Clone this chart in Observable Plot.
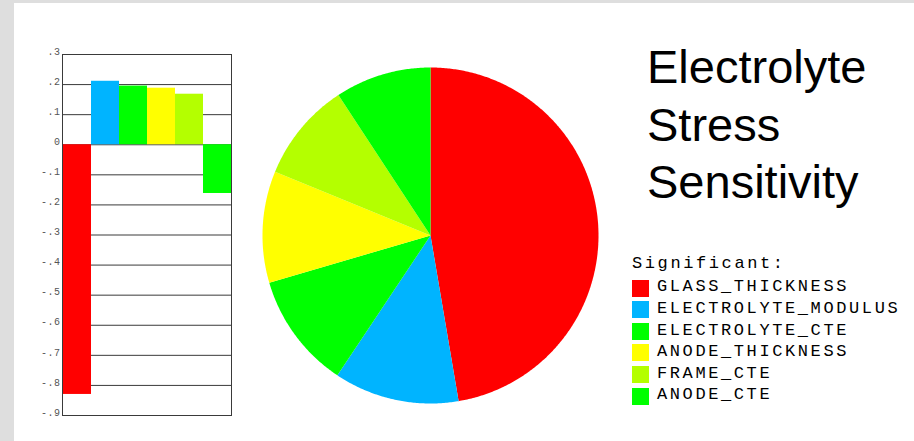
<!DOCTYPE html>
<html>
<head>
<meta charset="utf-8">
<script src="https://cdn.jsdelivr.net/npm/d3@7"></script>
<script src="https://cdn.jsdelivr.net/npm/@observablehq/plot@0.6"></script>
<style>
  html, body { margin: 0; padding: 0; }
  body { width: 914px; height: 441px; background: #dedede; position: relative; overflow: hidden; }
  #panel { position: absolute; left: 14px; top: 3px; width: 900px; height: 438px; background: #ffffff; }
  .abs { position: absolute; }
  #title { left: 647px; top: 38px; font-family: "Liberation Sans", Arial, sans-serif; font-size: 47px; line-height: 57.5px; color: #000; }
  #legend { left: 632px; top: 253px; font-family: "Liberation Mono", monospace; font-size: 17px; letter-spacing: 2.6px; color: #000; }
  #legend .head { height: 21.6px; line-height: 21.6px; margin-bottom: 1.8px; }
  #legend .row { height: 21.6px; line-height: 21.6px; display: flex; align-items: center; white-space: nowrap; }
  #legend .sw { width: 17px; height: 17px; margin-right: 8px; flex: none; position: relative; top: 1px; }
</style>
</head>
<body>
<div id="panel"></div>
<div id="bars" class="abs" style="left:0;top:0"></div>
<div id="pie" class="abs" style="left:260px;top:65px"></div>
<div id="title" class="abs"></div>
<div id="legend" class="abs"></div>
<script>
// ---- data ----
const categories = ["GLASS_THICKNESS", "ELECTROLYTE_MODULUS", "ELECTROLYTE_CTE", "ANODE_THICKNESS", "FRAME_CTE", "ANODE_CTE"];
const sensitivity = [-0.83, 0.211, 0.195, 0.188, 0.168, -0.162];
const colors = ["#ff0000", "#00b4ff", "#00ff00", "#ffff00", "#b4ff00", "#00ff00"];
const tickValues = [0.3, 0.2, 0.1, 0, -0.1, -0.2, -0.3, -0.4, -0.5, -0.6, -0.7, -0.8, -0.9];
const tickLabels = [".3", ".2", ".1", "0", "-.1", "-.2", "-.3", "-.4", "-.5", "-.6", "-.7", "-.8", "-.9"];
const titleLines = ["Electrolyte", "Stress", "Sensitivity"];
const legendTitle = "Significant:";

const data = categories.map((name, i) => ({name, value: sensitivity[i]}));
const colorScale = {domain: categories, range: colors};

// ---- bar chart ----
const barPlot = Plot.plot({
  width: 240,
  height: 430,
  marginLeft: 62,
  marginRight: 9,
  marginTop: 54,
  marginBottom: 15,
  style: {background: "transparent", overflow: "visible"},
  x: {domain: categories, padding: 0, axis: null},
  y: {domain: [-0.9, 0.3]},
  color: colorScale,
  marks: [
    Plot.ruleY(tickValues, {stroke: "#3a3a3a", strokeOpacity: 1}),
    Plot.frame({stroke: "#3a3a3a"}),
    Plot.barY(data, {x: "name", y: "value", fill: "name"}),
    Plot.axisY({
      ticks: tickValues,
      tickFormat: (d) => tickLabels[tickValues.indexOf(d)],
      tickSize: 0,
      tickPadding: 2,
      dy: -3,
      fontFamily: "Liberation Mono, monospace",
      fontSize: 10,
      fill: "#555",
      label: null
    })
  ]
});
barPlot.querySelectorAll("text").forEach(t => t.setAttribute("letter-spacing", "0.5"));
document.getElementById("bars").append(barPlot);

// ---- pie chart ----
const arcs = d3.pie().sort(null).value(d => Math.abs(d.value)).startAngle(0).endAngle(2 * Math.PI)(data);
const piePoints = [];
for (const a of arcs) {
  const name = a.data.name;
  piePoints.push({name, px: 0, py: 0});
  const n = Math.max(2, Math.ceil((a.endAngle - a.startAngle) / (Math.PI / 360)));
  for (let k = 0; k <= n; k++) {
    const ang = a.startAngle + (a.endAngle - a.startAngle) * k / n;
    piePoints.push({name, px: Math.sin(ang), py: Math.cos(ang)});
  }
  piePoints.push({name, px: 0, py: 0});
}
const piePlot = Plot.plot({
  width: 340,
  height: 340,
  margin: 2,
  style: {background: "transparent", overflow: "visible"},
  x: {domain: [-1, 1], axis: null},
  y: {domain: [-1, 1], axis: null},
  color: colorScale,
  marks: [
    Plot.line(piePoints, {x: "px", y: "py", z: "name", fill: "name", stroke: "none"})
  ]
});
document.getElementById("pie").append(piePlot);

// ---- title ----
document.getElementById("title").innerHTML = titleLines.map(t => `<div>${t}</div>`).join("");

// ---- legend ----
const legend = document.getElementById("legend");
legend.innerHTML = `<div class="head">${legendTitle}</div>` +
  categories.map((c, i) => `<div class="row"><span class="sw" style="background:${colors[i]}"></span><span>${c}</span></div>`).join("");
</script>
</body>
</html>
